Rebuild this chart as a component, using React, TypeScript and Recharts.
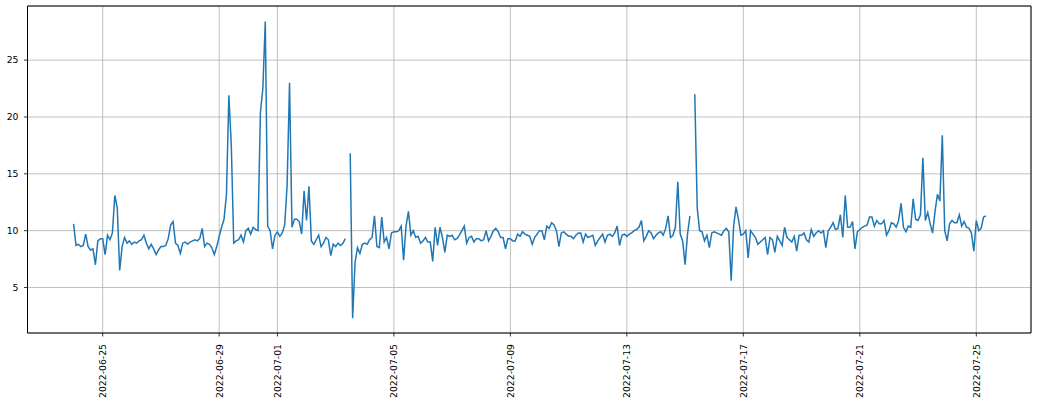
import React from 'react';
import { LineChart, Line, XAxis, YAxis, CartesianGrid, ReferenceArea } from 'recharts';

// Samples every 2 hours starting 2022-06-24 00:00
const START_UTC = Date.UTC(2022, 5, 24, 0, 0, 0);
const STEP_HOURS = 2;

const values: (number | null)[] = [
  10.6, 8.7, 8.8, 8.6, 8.7, 9.7, 8.6, 8.3, 8.4, 7.0, 9.1, 9.3,
  9.3, 7.9, 9.6, 9.2, 9.8, 13.1, 12.0, 6.5, 8.6, 9.4, 8.9, 9.1,
  8.8, 9.0, 8.9, 9.1, 9.2, 9.6, 8.9, 8.4, 8.8, 8.4, 7.9, 8.3,
  8.6, 8.6, 8.7, 9.3, 10.5, 10.8, 8.9, 8.7, 8.0, 8.9, 9.0, 8.8,
  9.0, 9.1, 9.2, 9.1, 9.3, 10.2, 8.6, 8.9, 8.8, 8.5, 7.9, 8.6,
  9.5, 10.3, 11.0, 13.2, 21.9, 17.5, 8.9, 9.1, 9.2, 9.6, 9.0, 10.0,
  10.2, 9.7, 10.3, 10.1, 10.0, 20.4, 22.5, 28.4, 10.4, 10.0, 8.4, 9.6,
  9.9, 9.5, 9.8, 10.5, 14.0, 23.0, 10.3, 11.0, 11.0, 10.8, 9.7, 13.5,
  10.9, 13.9, 9.1, 8.8, 9.2, 9.6, 8.6, 8.9, 9.4, 9.2, 7.8, 8.8,
  8.6, 8.9, 8.7, 8.9, 9.3, null, 16.8, 2.3, 7.2, 8.5, 8.0, 8.8,
  8.9, 8.8, 9.2, 9.4, 11.3, 8.6, 8.5, 11.2, 9.0, 9.4, 8.4, 9.8,
  9.9, 9.9, 10.0, 10.4, 7.4, 10.4, 11.7, 9.6, 10.0, 9.4, 9.5, 8.9,
  9.1, 9.4, 9.0, 9.0, 7.3, 10.3, 8.7, 10.3, 9.4, 8.1, 9.6, 9.5,
  9.6, 9.2, 9.3, 9.6, 10.0, 10.4, 8.9, 9.4, 9.5, 9.0, 9.3, 9.3,
  9.1, 9.2, 10.0, 9.1, 9.5, 10.0, 10.2, 9.9, 9.4, 9.4, 8.4, 9.3,
  9.3, 9.1, 9.1, 9.7, 9.5, 9.9, 9.7, 9.6, 9.5, 8.8, 9.4, 9.7,
  10.0, 10.0, 9.2, 10.4, 10.2, 10.7, 10.5, 10.0, 8.6, 9.8, 9.9, 9.7,
  9.5, 9.5, 9.3, 9.6, 9.8, 9.8, 9.0, 9.7, 9.4, 9.5, 9.6, 8.7,
  9.1, 9.4, 9.7, 9.0, 9.6, 9.7, 9.5, 9.8, 10.4, 8.7, 9.6, 9.7,
  9.5, 9.7, 9.8, 10.0, 10.1, 10.3, 10.9, 9.1, 9.5, 10.0, 9.8, 9.3,
  9.6, 9.8, 9.9, 9.6, 10.2, 11.3, 9.4, 9.6, 10.3, 14.3, 9.7, 9.1,
  7.0, 9.7, 11.3, null, 22.0, 12.0, 10.0, 9.9, 9.1, 9.6, 8.5, 9.8,
  9.9, 9.8, 9.7, 9.6, 10.0, 10.2, 9.9, 5.6, 10.4, 12.1, 11.0, 9.6,
  9.7, 10.0, 7.6, 10.0, 9.7, 9.4, 8.8, 9.0, 9.2, 9.4, 7.9, 9.4,
  9.2, 8.1, 9.5, 9.1, 8.7, 10.3, 9.4, 9.2, 9.0, 9.5, 8.2, 9.6,
  9.6, 9.8, 9.2, 9.0, 10.1, 9.5, 9.8, 10.0, 9.8, 10.0, 8.5, 10.0,
  10.3, 10.7, 10.1, 10.2, 11.4, 9.4, 13.1, 10.3, 10.3, 10.8, 8.4, 9.9,
  10.1, 10.3, 10.4, 10.5, 11.2, 11.2, 10.4, 10.9, 10.6, 10.6, 10.9, 9.6,
  10.0, 10.7, 10.6, 10.3, 10.9, 12.4, 10.3, 9.9, 10.4, 10.3, 12.8, 11.0,
  10.9, 11.4, 16.4, 10.9, 11.6, 10.6, 9.8, 11.7, 13.2, 12.6, 18.4, 10.0,
  9.1, 10.6, 10.9, 10.7, 10.7, 11.4, 10.4, 10.8, 10.3, 10.2, 9.8, 8.2,
  10.9, 10.0, 10.2, 11.2, 11.3,
];

const xTickLabels = [
  '2022-06-25', '2022-06-29', '2022-07-01', '2022-07-05', '2022-07-09',
  '2022-07-13', '2022-07-17', '2022-07-21', '2022-07-25',
];
const yTicks = [5, 10, 15, 20, 25];
const xDomain: [number, number] = [-37.97, 789.1]; // hours from start
const yDomain: [number, number] = [1.0, 29.76];

const hourOf = (label: string) => (Date.parse(label + 'T00:00:00Z') - START_UTC) / 3600000;
const xTicks = xTickLabels.map(hourOf);
const fmtDate = (h: number) => new Date(START_UTC + h * 3600000).toISOString().slice(0, 10);
const data = values.map((v, i) => ({ t: i * STEP_HOURS, v }));

const FONT = '"DejaVu Sans", sans-serif';

const XTick = (props: any) => {
  const { x, y, payload } = props;
  return (
    <g transform={`translate(${x},${y})`}>
      <text
        transform="rotate(-90)"
        x={-7.5}
        y={0}
        textAnchor="end"
        dominantBaseline="central"
        fontSize={9.3}
        fontFamily={FONT}
        fill="#000"
      >
        {fmtDate(payload.value)}
      </text>
    </g>
  );
};

export default function App() {
  return (
    <div style={{ position: 'absolute', left: 0, top: 0, width: 1038, height: 405, background: '#fff' }}>
      <LineChart width={1038} height={405} data={data} margin={{ top: 6, right: 7, bottom: 0, left: 0 }}>
        <CartesianGrid stroke="#b0b0b0" strokeWidth={0.8} />
        <XAxis
          type="number"
          dataKey="t"
          domain={xDomain}
          ticks={xTicks}
          interval={0}
          allowDataOverflow
          height={72}
          axisLine={false}
          tickLine={{ stroke: '#000', strokeWidth: 0.8 }}
          tickSize={3.5}
          tickMargin={0}
          tick={<XTick />}
        />
        <YAxis
          type="number"
          domain={yDomain}
          ticks={yTicks}
          allowDataOverflow
          width={27.5}
          axisLine={false}
          tickLine={{ stroke: '#000', strokeWidth: 0.8 }}
          tickSize={3.5}
          tickMargin={5.5}
          tick={{ fontSize: 9.3, fontFamily: FONT, fill: '#000' }}
        />
        <Line
          type="linear"
          dataKey="v"
          stroke="#1f77b4"
          strokeWidth={1.5}
          dot={false}
          activeDot={false}
          connectNulls={false}
          isAnimationActive={false}
        />
        <ReferenceArea
          x1={xDomain[0]}
          x2={xDomain[1]}
          y1={yDomain[0]}
          y2={yDomain[1]}
          fill="none"
          fillOpacity={0}
          stroke="#000"
          strokeWidth={1}
          ifOverflow="visible"
        />
      </LineChart>
    </div>
  );
}
